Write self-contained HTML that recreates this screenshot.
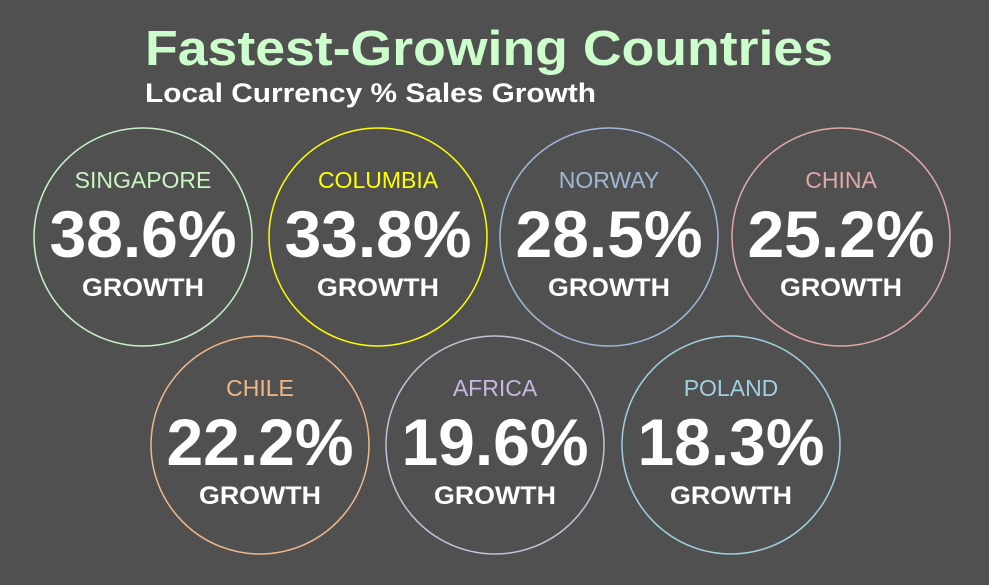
<!DOCTYPE html>
<html><head><style>
html,body{margin:0;padding:0;background:#505050;}
svg{display:block;font-family:"Liberation Sans",Arial,sans-serif;}
</style></head><body>
<svg width="989" height="585" viewBox="0 0 989 585">
<rect width="989" height="585" fill="#505050"/>
<text x="145" y="65" font-size="49" font-weight="bold" fill="#ccffcc" textLength="688" lengthAdjust="spacingAndGlyphs">Fastest-Growing Countries</text>
<text x="145" y="102" font-size="27" font-weight="bold" fill="#ffffff" textLength="451" lengthAdjust="spacingAndGlyphs">Local Currency % Sales Growth</text>
<g text-anchor="middle">
<g transform="translate(143,237)">
<circle r="109" fill="none" stroke="#c8f0c8" stroke-width="1.5"/>
<text y="-49" font-size="23" fill="#c8f5c0">SINGAPORE</text>
<text y="20" font-size="66" font-weight="bold" fill="#fff">38.6%</text>
<text y="59" font-size="25" font-weight="bold" fill="#fff" textLength="122" lengthAdjust="spacingAndGlyphs">GROWTH</text>
</g>
<g transform="translate(378,237)">
<circle r="109" fill="none" stroke="#ffff00" stroke-width="1.5"/>
<text y="-49" font-size="23" fill="#ffff00">COLUMBIA</text>
<text y="20" font-size="66" font-weight="bold" fill="#fff">33.8%</text>
<text y="59" font-size="25" font-weight="bold" fill="#fff" textLength="122" lengthAdjust="spacingAndGlyphs">GROWTH</text>
</g>
<g transform="translate(609,237)">
<circle r="109" fill="none" stroke="#a0b8d8" stroke-width="1.5"/>
<text y="-49" font-size="23" fill="#a0b8d8">NORWAY</text>
<text y="20" font-size="66" font-weight="bold" fill="#fff">28.5%</text>
<text y="59" font-size="25" font-weight="bold" fill="#fff" textLength="122" lengthAdjust="spacingAndGlyphs">GROWTH</text>
</g>
<g transform="translate(841,237)">
<circle r="109" fill="none" stroke="#e0a8a8" stroke-width="1.5"/>
<text y="-49" font-size="23" fill="#e0a8a8">CHINA</text>
<text y="20" font-size="66" font-weight="bold" fill="#fff">25.2%</text>
<text y="59" font-size="25" font-weight="bold" fill="#fff" textLength="122" lengthAdjust="spacingAndGlyphs">GROWTH</text>
</g>
<g transform="translate(260,445)">
<circle r="109" fill="none" stroke="#f0b888" stroke-width="1.5"/>
<text y="-49" font-size="23" fill="#f0b888">CHILE</text>
<text y="20" font-size="66" font-weight="bold" fill="#fff">22.2%</text>
<text y="59" font-size="25" font-weight="bold" fill="#fff" textLength="122" lengthAdjust="spacingAndGlyphs">GROWTH</text>
</g>
<g transform="translate(495,445)">
<circle r="109" fill="none" stroke="#c8c0d8" stroke-width="1.5"/>
<text y="-49" font-size="23" fill="#c8b8e0">AFRICA</text>
<text y="20" font-size="66" font-weight="bold" fill="#fff">19.6%</text>
<text y="59" font-size="25" font-weight="bold" fill="#fff" textLength="122" lengthAdjust="spacingAndGlyphs">GROWTH</text>
</g>
<g transform="translate(731,445)">
<circle r="109" fill="none" stroke="#a0d0e0" stroke-width="1.5"/>
<text y="-49" font-size="23" fill="#a0d0e0">POLAND</text>
<text y="20" font-size="66" font-weight="bold" fill="#fff">18.3%</text>
<text y="59" font-size="25" font-weight="bold" fill="#fff" textLength="122" lengthAdjust="spacingAndGlyphs">GROWTH</text>
</g>
</g>
</svg>
</body></html>
